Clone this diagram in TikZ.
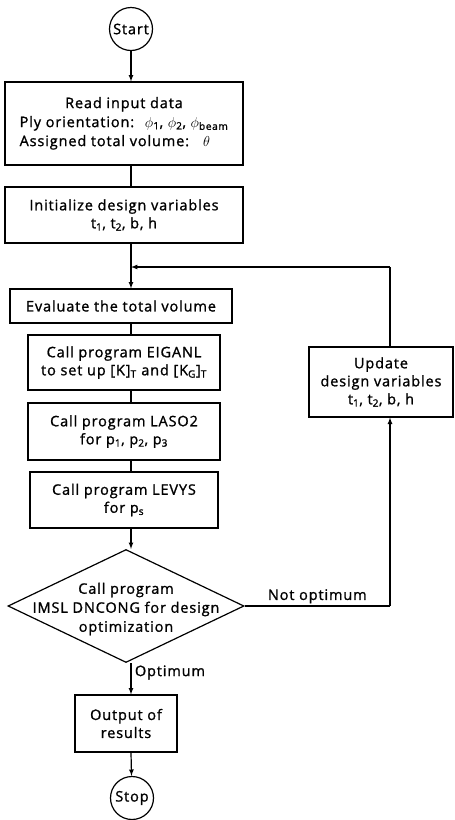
\documentclass[tikz,border=0pt]{standalone}
\usepackage{fontspec}
\setmainfont{Open Sans}[LetterSpace=6, FakeBold=1.2]
\usetikzlibrary{arrows,shapes.geometric}
\tikzstyle{block}=[rectangle, draw, line width=1.2pt, align=center, inner sep=2pt]
\tikzstyle{term}=[circle, draw, line width=1.2pt, inner sep=0pt, minimum size=43pt]
\tikzstyle{decision}=[diamond, draw, line width=1.2pt, inner sep=0pt]
\newcommand{\block}{\node[block]}
\newcommand{\term}{\node[term]}
\newcommand{\sub}[1]{\textsubscript{#1}}

\begin{document}
\begin{tikzpicture}[x=1pt, y=-1pt, font=\fontsize{14.5}{18}\selectfont
    ,every edge/.style={draw, line width=1.2pt, -latex}
]
\useasboundingbox (0,0) rectangle (455,820);
\term (start) at (131,29) {Start};
\block[minimum width=238pt, minimum height=83pt] (read) at (124,123.5)
  {\begin{tabular}{@{}l@{\hspace{14pt}}l@{}}
   \multicolumn{2}{c}{Read input data}\\[1pt]
   \multicolumn{2}{@{}l@{}}{Ply orientation: \ $\phi$\sub{1}, $\phi$\sub{2}, $\phi$\sub{beam}}\\[1pt]
   Assigned total volume: & $\theta$
   \end{tabular}};
\block[minimum width=238pt, minimum height=56pt] (init) at (124,215)
  {Initialize design variables\\ t\sub{1}, t\sub{2}, b, h};
\coordinate (join) at (131,267);
\block[minimum width=222pt, minimum height=34pt] (eval) at (121,306)
  {Evaluate the total volume};
\block[minimum width=192pt, minimum height=55pt] (eig) at (124,362.5)
  {Call program EIGANL\\ to set up [K]\sub{T} and [K\sub{G}]\sub{T}};
\block[minimum width=192pt, minimum height=57pt] (laso) at (124,431.5)
  {Call program LASO2\\ for p\sub{1}, p\sub{2}, p\sub{3}};
\block[minimum width=188pt, minimum height=56pt] (levy) at (124,500)
  {Call program LEVYS\\ for p\sub{s}};
\node[decision, minimum width=236pt, minimum height=113pt] (dec) at (126,606) {};
\node[align=center, font=\fontsize{14.5}{19}\selectfont] (dectext) at (126,609)
  {Call program\\ IMSL DNCONG for design\\ optimization};
\block[minimum width=102pt, minimum height=57pt] (out) at (126,723.5)
  {Output of\\ results};
\term (stop) at (132,798) {Stop};
\block[minimum width=144pt, minimum height=70pt] (upd) at (381,382)
  {Update\\ design variables\\ t\sub{1}, t\sub{2}, b, h};
\coordinate (fb) at (390,267);
\path
(start) edge (start |- read.north)
(start |- read.south) edge[-] (start |- init.north)
(start |- init.south) edge[-] (join)
(join) edge (start |- eval.north)
(start |- eval.south) edge[-] (start |- eig.north)
(start |- eig.south) edge[-] (start |- laso.north)
(start |- laso.south) edge[-] (start |- levy.north)
(start |- levy.south) edge (start |- dec.north)
(start |- dec.south) edge node[right, pos=.3] {Optimum} (start |- out.north)
(start |- out.south) edge (stop)
(dec.east) edge[-] node[above, inner sep=2pt] {Not optimum} (dec.east -| fb)
(dec.east -| fb) edge (fb |- upd.south)
(fb |- upd.north) edge[-] (fb)
(fb) edge (join)
;
\end{tikzpicture}
\end{document}
